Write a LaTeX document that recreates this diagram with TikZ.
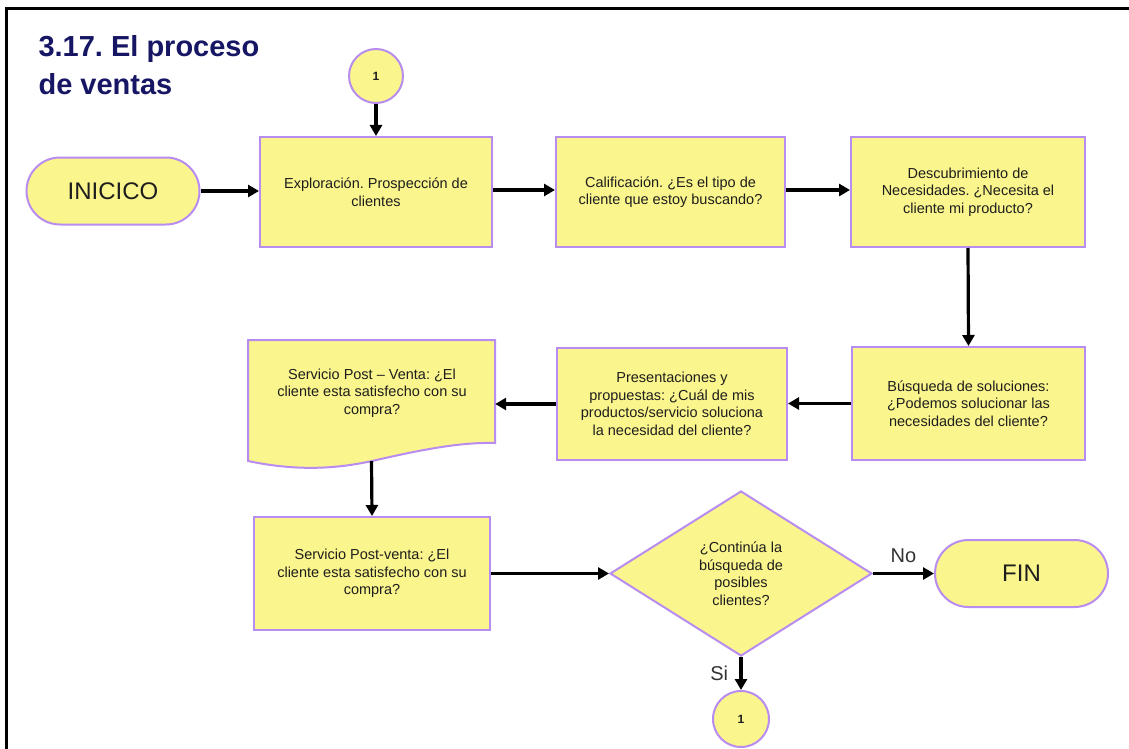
\documentclass[tikz,border=0pt]{standalone}
\usepackage{fontspec}
\setmainfont{Liberation Sans}
\usetikzlibrary{shapes.geometric,shapes.misc,arrows.meta}
\frenchspacing

\definecolor{boxfill}{RGB}{250,245,140}
\definecolor{boxline}{RGB}{185,140,240}
\definecolor{titleblue}{RGB}{22,22,100}
\definecolor{txt}{RGB}{30,30,30}

\tikzset{
  shapebase/.style={draw=boxline, fill=boxfill, line width=2pt, text=txt, align=center, inner sep=0pt},
  proc/.style={shapebase, rectangle, font=\fontsize{14.5}{17.5}\selectfont},
  term/.style={shapebase, rounded rectangle, minimum width=173pt, minimum height=67pt, font=\fontsize{24}{28}\selectfont},
  conn/.style={shapebase, circle, minimum size=54pt, font=\bfseries\fontsize{12}{14}\selectfont},
  decision/.style={shapebase, diamond, minimum width=262pt, minimum height=165pt, font=\fontsize{14.5}{17.5}\selectfont},
  flow/.style={line width=3.2pt, draw=black, -{Triangle[length=11pt,width=12pt]}},
  edgelabel/.style={font=\fontsize{20}{24}\selectfont, text=black!80},
  title/.style={anchor=base west, font=\bfseries\fontsize{29}{34}\selectfont, text=titleblue}
}

\begin{document}
\begin{tikzpicture}[x=1pt,y=-1pt]
  \useasboundingbox (0,0) rectangle (1129,749);
  \fill[white] (0,0) rectangle (1129,749);

  % frame (top and left edges)
  \draw[line width=3pt] (6,749) -- (6,9) -- (1129,9);

  % heading
  \node[title] (t1) at (35,57) {3.17. El proceso};
  \node[title] (t2) at (35,95) {de ventas};

  % first row
  \node[term] (ini) at (113,191) {INICICO};
  \node[conn] (c1) at (376,76) {1};
  \node[proc, minimum width=232pt, minimum height=110pt] (b1) at (376,192)
    {Exploración. Prospección de\\clientes};
  \node[proc, minimum width=229pt, minimum height=110pt] (b2) at (670.5,192)
    {Calificación. ¿Es el tipo de\\cliente que estoy buscando?};
  \node[proc, minimum width=234pt, minimum height=110pt] (b3) at (968,192)
    {Descubrimiento de\\Necesidades. ¿Necesita el\\cliente mi producto?};

  % second row
  \node[proc, minimum width=233pt, minimum height=113pt] (b4) at (968.5,403.5)
    {Búsqueda de soluciones:\\¿Podemos solucionar las\\necesidades del cliente?};
  \node[proc, minimum width=230pt, minimum height=112pt] (b5) at (672,404)
    {Presentaciones y\\propuestas: ¿Cuál de mis\\productos/servicio soluciona\\la necesidad del cliente?};

  % document shape with wavy bottom
  \filldraw[draw=boxline, fill=boxfill, line width=2pt]
    (248,340) -- (495,340) -- (495,443)
    .. controls (460,442) and (420,450) .. (372,461)
    .. controls (340,468) and (300,472) .. (248,461) -- cycle;
  \node[draw=none, minimum width=247pt, minimum height=121pt, inner sep=0pt] (doc) at (371.5,400.5) {};
  \node[text=txt, align=center, font=\fontsize{14.5}{17.5}\selectfont] (doctext) at (372,393)
    {Servicio Post – Venta: ¿El\\cliente esta satisfecho con su\\compra?};

  % third row
  \node[proc, minimum width=236pt, minimum height=113pt] (b6) at (372,573.5)
    {Servicio Post-venta: ¿El\\cliente esta satisfecho con su\\compra?};
  \node[decision] (dec) at (741,573.5)
    {¿Continúa la\\búsqueda de\\posibles\\clientes?};
  \node[term] (fin) at (1021.5,573.5) {FIN};
  \node[conn, minimum size=56pt] (c2) at (741,719) {1};

  % connectors
  \draw[flow] (ini.east) -- (b1.west |- ini.east);
  \draw[flow] (c1.south) -- (b1.north);
  \draw[flow] (b1.east |- 0,190) -- (b2.west |- 0,190);
  \draw[flow] (b2.east |- 0,190) -- (b3.west |- 0,190);
  \draw[flow] (b3.south) -- (b4.north);
  \draw[flow] (b4.west) -- (b5.east |- b4.west);
  \draw[flow] (b5.west) -- (doc.east |- b5.west);
  \draw[flow] (doc.south) -- (b6.north);
  \draw[flow] (b6.east) -- (dec.west);
  \draw[flow] (dec.east) -- node[edgelabel, above=6pt] {No} (fin.west);
  \draw[flow] (dec.south) -- node[edgelabel, left=8pt] {Si} (c2.north);
\end{tikzpicture}
\end{document}
